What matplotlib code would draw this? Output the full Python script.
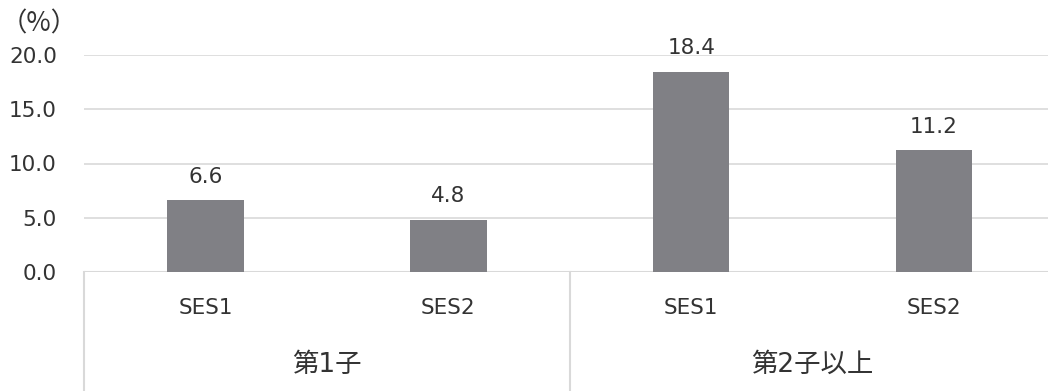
import matplotlib
matplotlib.use("Agg")
from matplotlib import pyplot as plt

plt.rcParams["font.family"] = ["DejaVu Sans", "Noto Sans CJK JP"]

groups = ["第1子", "第2子以上"]
ses_labels = ["SES1", "SES2", "SES1", "SES2"]
values = [6.6, 4.8, 18.4, 11.2]
yticks = [0, 5, 10, 15, 20]

bar_color = "#808085"
grid_color = "#d9d9d9"
text_color = "#333333"
fs = 15.5

W, H = 1048, 391
fig = plt.figure(figsize=(W / 100, H / 100), dpi=100)

# plot area in pixels: left edge 84, right edge ~1055 (runs off the picture)
x0, x1 = 84, 1055.5
y_top, y_bot = 55, 272
ax = fig.add_axes([x0 / W, (H - y_bot) / H, (x1 - x0) / W, (y_bot - y_top) / H])

xs = list(range(len(values)))
bars = ax.bar(xs, values, width=0.315, color=bar_color, zorder=3)
ax.bar_label(bars, labels=[f"{v:.1f}" for v in values], padding=10,
             fontsize=fs, color=text_color)

ax.set_xlim(-0.5, len(values) - 0.5)
ax.set_ylim(0, 20)
ax.set_yticks(yticks)
ax.set_yticklabels([f"{t:.1f}" for t in yticks], fontsize=fs, color=text_color)
ax.tick_params(axis="y", length=0, pad=19.5)
ax.tick_params(axis="x", length=0)
ax.set_xticks([])
ax.grid(axis="y", color=grid_color, lw=1.2, zorder=0)
for s in ax.spines.values():
    s.set_visible(False)
ax.axhline(0, color=grid_color, lw=1.5, zorder=2)

# multi-level category axis
trans = ax.get_xaxis_transform()
ax_h = (y_bot - y_top)
bottom_frac = -(H - y_bot) / ax_h
for x in [-0.5, 1.5, 3.5]:
    ax.plot([x, x], [0, bottom_frac], transform=trans, color=grid_color,
            lw=1.5, clip_on=False)

ses_y = -(308 - y_bot) / ax_h
grp_y = -(365 - y_bot) / ax_h
for x, lab in zip(xs, ses_labels):
    ax.text(x, ses_y, lab, transform=trans, ha="center", va="center",
            fontsize=fs, color=text_color)
for i, g in enumerate(groups):
    ax.text(2 * i + 0.5, grp_y, g, transform=trans, ha="center", va="center",
            fontsize=19, color=text_color)

fig.text(0.5 / W, (H - 24) / H, "（%）", ha="left", va="center",
         fontsize=19, color=text_color, family=["Noto Sans CJK JP"])

fig.savefig("out.png", dpi=100)
